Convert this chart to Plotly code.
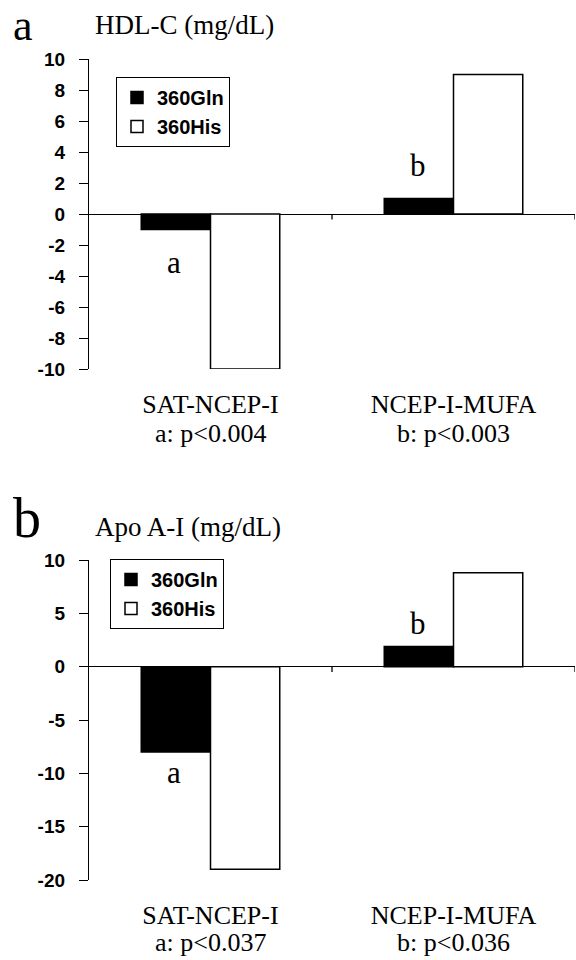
import plotly.graph_objects as go

categories = ["SAT-NCEP-I", "NCEP-I-MUFA"]
pvalues_a = ["a: p&lt;0.004", "b: p&lt;0.003"]
pvalues_b = ["a: p&lt;0.037", "b: p&lt;0.036"]
series_names = ["360Gln", "360His"]

hdl_gln = [-1.0, 1.0]
hdl_his = [-10.0, 9.0]
apo_gln = [-8.0, 1.9]
apo_his = [-19.0, 8.8]

hdl_ticks = [10, 8, 6, 4, 2, 0, -2, -4, -6, -8, -10]
hdl_tick_labels = ["10", "8", "6", "4", "2", "0", "-2", "-4", "-6", "-8", "-10"]
apo_ticks = [10, 5, 0, -5, -10, -15, -20]
apo_tick_labels = ["10", "5", "0", "-5", "-10", "-15", "-20"]

W, H = 576, 960
SERIF = "Liberation Serif, Times New Roman, serif"
SANS = "Liberation Sans, Arial, sans-serif"

fig = go.Figure()
xpos = list(range(len(categories)))

def add_panel(gln, his, xa, ya, leg):
    fig.add_trace(go.Bar(x=xpos, y=gln, name=series_names[0], xaxis=xa, yaxis=ya,
                         marker=dict(color="black", line=dict(color="black", width=1.5)),
                         legend=leg))
    fig.add_trace(go.Bar(x=xpos, y=his, name=series_names[1], xaxis=xa, yaxis=ya,
                         marker=dict(color="white", line=dict(color="black", width=1.5)),
                         legend=leg))

add_panel(hdl_gln, hdl_his, "x", "y", "legend")
add_panel(apo_gln, apo_his, "x2", "y2", "legend2")

xdom = [89 / W, 575 / W]
ydom1 = [1 - 369 / H, 1 - 59 / H]
ydom2 = [1 - 880 / H, 1 - 560 / H]

common_x = dict(range=[-0.5, len(categories) - 0.5], tickmode="array", tickvals=xpos,
                ticktext=categories,
                showline=False, showgrid=False, zeroline=False, ticks="",
                tickfont=dict(family=SERIF, size=26, color="black"),
                ticklabelstandoff=17, fixedrange=True, automargin=False)
common_y = dict(showline=True, linecolor="black", linewidth=1.3, ticks="outside",
                ticklen=9, tickwidth=1.3, tickcolor="black", showgrid=False,
                zeroline=True, zerolinecolor="black", zerolinewidth=1.3,
                tickfont=dict(family=SANS, size=19, color="black", weight="bold"),
                ticklabelstandoff=10, tickmode="array", automargin=False, fixedrange=True)

legend_font = dict(family=SANS, size=20, color="black", weight="bold")

fig.update_layout(
    width=W, height=H, margin=dict(l=0, r=0, t=0, b=0, autoexpand=False),
    paper_bgcolor="white", plot_bgcolor="white",
    barmode="group", bargap=0.43, bargroupgap=0,
    showlegend=True,
    xaxis=dict(domain=xdom, anchor="y", **common_x),
    yaxis=dict(domain=ydom1, anchor="x", range=[-10, 10], tickvals=hdl_ticks,
               ticktext=hdl_tick_labels, **common_y),
    xaxis2=dict(domain=xdom, anchor="y2", **common_x),
    yaxis2=dict(domain=ydom2, anchor="x2", range=[-20, 10], tickvals=apo_ticks,
                ticktext=apo_tick_labels, **common_y),
    legend=dict(x=116 / W, y=1 - 77 / H, xanchor="left", yanchor="top",
                bordercolor="black", borderwidth=1, bgcolor="white",
                font=legend_font, tracegroupgap=0, itemwidth=30, traceorder="normal"),
    legend2=dict(x=110 / W, y=1 - 559 / H, xanchor="left", yanchor="top",
                 bordercolor="black", borderwidth=1, bgcolor="white",
                 font=legend_font, tracegroupgap=0, itemwidth=30, traceorder="normal"),
)

annotations = [
    dict(text="a", x=12 / W, y=1, xref="paper", yref="paper", xanchor="left",
         yanchor="top", borderpad=0, showarrow=False,
         font=dict(family=SERIF, size=44, color="black")),
    dict(text="HDL-C (mg/dL)", x=93 / W, y=1 - 25 / H, xref="paper", yref="paper",
         xanchor="left", yanchor="middle", showarrow=False,
         font=dict(family=SERIF, size=27, color="black")),
    dict(text="b", x=11 / W, y=1 - 518 / H, xref="paper", yref="paper", xanchor="left",
         yanchor="middle", showarrow=False, font=dict(family=SERIF, size=56, color="black")),
    dict(text="Apo A-I (mg/dL)", x=93 / W, y=1 - 527 / H, xref="paper", yref="paper",
         xanchor="left", yanchor="middle", showarrow=False,
         font=dict(family=SERIF, size=27, color="black")),
    # significance letters
    dict(text="a", x=0, y=hdl_gln[0], xref="x", yref="y", xshift=-37, yshift=-33,
         showarrow=False, font=dict(family=SERIF, size=31, color="black")),
    dict(text="b", x=1, y=hdl_gln[1], xref="x", yref="y", xshift=-36, yshift=33,
         showarrow=False, font=dict(family=SERIF, size=31, color="black")),
    dict(text="a", x=0, y=apo_gln[0], xref="x2", yref="y2", xshift=-37, yshift=-20,
         showarrow=False, font=dict(family=SERIF, size=31, color="black")),
    dict(text="b", x=1, y=apo_gln[1], xref="x2", yref="y2", xshift=-36, yshift=23,
         showarrow=False, font=dict(family=SERIF, size=31, color="black")),
]
# p-value lines under the category labels
for i, (pa, pb) in enumerate(zip(pvalues_a, pvalues_b)):
    annotations.append(dict(text=pa, x=i, y=0, xref="x", yref="y domain", yanchor="middle",
                            yshift=-64, showarrow=False, borderpad=0,
                            font=dict(family=SERIF, size=26, color="black")))
    annotations.append(dict(text=pb, x=i, y=0, xref="x2", yref="y2 domain", yanchor="middle",
                            yshift=-62, showarrow=False, borderpad=0,
                            font=dict(family=SERIF, size=26, color="black")))
fig.update_layout(annotations=annotations)

# small tick marks on the zero line at category boundaries
shapes = []
for xr, yr, d in [("x", "y", 0.35), ("x2", "y2", 0.5)]:
    for b in [i + 0.5 for i in range(len(categories))]:
        shapes.append(dict(type="line", xref=xr, yref=yr, x0=b, x1=b, y0=0, y1=-d,
                           line=dict(color="black", width=1.3)))
fig.update_layout(shapes=shapes)

fig.write_html("out.html", config={"displayModeBar": False},
               post_script="document.body.style.margin='0';document.body.style.padding='0';")
